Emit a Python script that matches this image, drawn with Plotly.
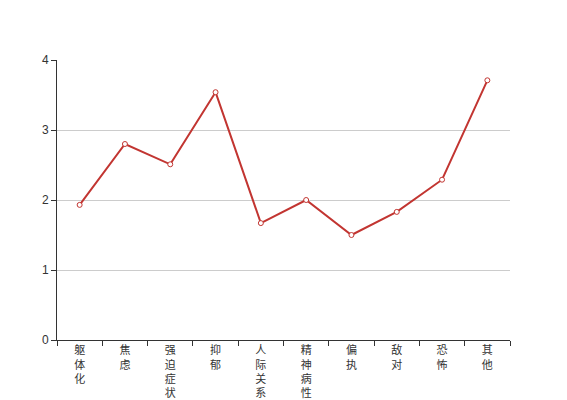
import plotly.graph_objects as go

# 因子名称与得分
categories = ['躯体化', '焦虑', '强迫症状', '抑郁', '人际关系敏感',
              '精神病性', '偏执', '敌对', '恐怖', '其他']
scores = [1.93, 2.80, 2.51, 3.54, 1.67, 2.00, 1.50, 1.83, 2.29, 3.71]
y_ticks = [0, 1, 2, 3, 4]

# 每个字一行，竖排显示
tick_text = ['<br>'.join(list(c)) for c in categories]

fig = go.Figure()
fig.add_trace(go.Scatter(
    x=categories, y=scores, mode='lines+markers',
    line=dict(color='#c23531', width=2),
    marker=dict(symbol='circle', size=5, color='#ffffff',
                line=dict(color='#c23531', width=1)),
    showlegend=False, hoverinfo='x+y'
))

# 页面 body 默认有 8px 外边距，这里扣掉
fig.update_layout(
    width=559, height=392,
    margin=dict(l=49, r=57, t=52, b=60),
    paper_bgcolor='white', plot_bgcolor='white',
    font=dict(family='Noto Sans CJK SC, sans-serif', size=12, color='#333333'),
)
fig.update_xaxes(
    type='category', categoryorder='array', categoryarray=categories,
    tickvals=categories, ticktext=tick_text,
    range=[-0.5, len(categories) - 0.5],
    tickson='boundaries', ticks='outside', ticklen=5, tickcolor='#333333',
    showline=True, linecolor='#333333', linewidth=1,
    showgrid=False, zeroline=False, fixedrange=True, automargin=False,
    tickfont=dict(size=11, color='#333333'),
)
fig.update_yaxes(
    range=[0, 4], tickvals=y_ticks,
    ticks='outside', ticklen=5, tickcolor='#333333',
    showline=True, linecolor='#333333', linewidth=1,
    showgrid=True, gridcolor='#cccccc', gridwidth=1,
    zeroline=False, fixedrange=True, automargin=False,
    tickfont=dict(family='Liberation Sans, Arial, sans-serif', size=12, color='#333333'),
)

fig.write_html('out.html')
